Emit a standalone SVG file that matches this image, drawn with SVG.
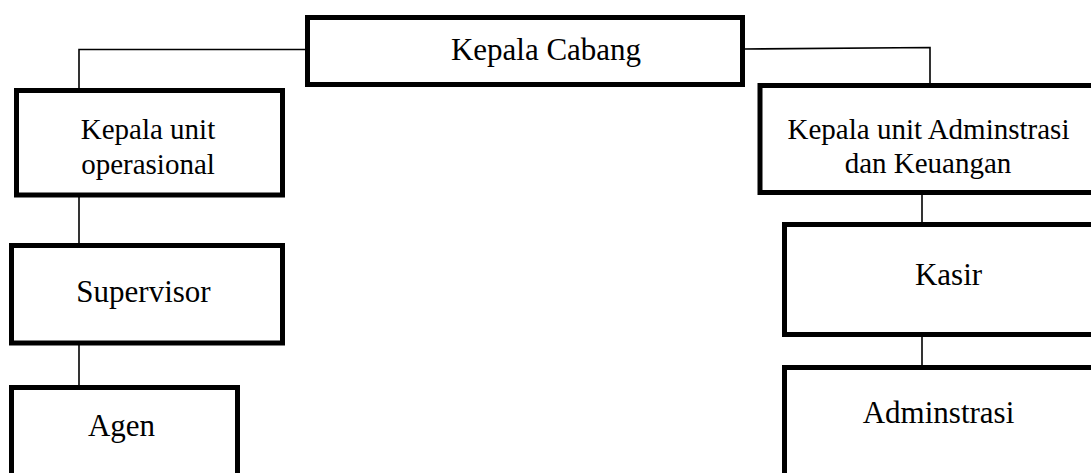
<svg xmlns="http://www.w3.org/2000/svg" width="1091" height="473" viewBox="0 0 1091 473">
<style>
.box{fill:#fff;stroke:#000;stroke-width:5}
.ln{fill:none;stroke:#000;stroke-width:1.6}
text{font-family:"Liberation Serif","Times New Roman",serif;fill:#000;text-anchor:middle}
.t2{font-size:29px}
.t1{font-size:31px}
</style>
<rect width="1091" height="473" fill="#fff"/>
<g id="connectors">
<polyline class="ln" points="307,49.5 79,49.5 79,88"/>
<polyline class="ln" points="743,49 930,47.5 930,84"/>
<line class="ln" x1="79" y1="196" x2="79" y2="244"/>
<line class="ln" x1="79" y1="344" x2="79" y2="386"/>
<line class="ln" x1="922" y1="194" x2="922" y2="223"/>
<line class="ln" x1="922" y1="336" x2="922" y2="366"/>
</g>
<g id="kepala-cabang">
<rect class="box" x="307.5" y="17.5" width="435" height="67"/>
<text class="t1" x="546" y="60">Kepala Cabang</text>
</g>
<g id="kepala-unit-operasional">
<rect class="box" x="16.5" y="90.5" width="266" height="104.5"/>
<text class="t2" x="148" y="139">Kepala unit</text>
<text class="t2" x="148" y="174">operasional</text>
</g>
<g id="supervisor">
<rect class="box" x="11.5" y="245.5" width="271" height="97.5"/>
<text class="t1" x="143.5" y="302">Supervisor</text>
</g>
<g id="agen">
<rect class="box" x="11.5" y="387.5" width="226" height="110"/>
<text class="t1" x="121.5" y="436">Agen</text>
</g>
<g id="kepala-unit-adminstrasi">
<rect class="box" x="760" y="85.5" width="360" height="107"/>
<text class="t2" x="928.5" y="139">Kepala unit Adminstrasi</text>
<text class="t2" x="928" y="173">dan Keuangan</text>
</g>
<g id="kasir">
<rect class="box" x="784.5" y="224.5" width="340" height="110"/>
<text class="t1" x="948.5" y="285">Kasir</text>
</g>
<g id="adminstrasi">
<rect class="box" x="784.5" y="367.5" width="340" height="130"/>
<text class="t1" x="938.5" y="423">Adminstrasi</text>
</g>
</svg>
